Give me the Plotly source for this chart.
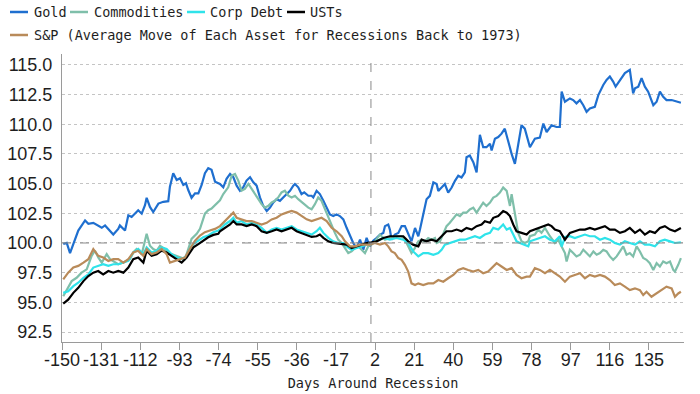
import plotly.graph_objects as go

# ---------------- data ----------------
gold_days = [-149.4,-147.7,-146.1,-143.7,-142.1,-138.8,-137.2,-134.8,-132.4,-130.7,-129.1,-126.7,-125.1,-122.7,-121.9,-119.4,-117.8,-116.2,-114.6,-113.0,-111.3,-109.7,-108.9,-107.3,-105.7,-103.2,-100.8,-98.4,-97.6,-96.0,-94.3,-92.7,-91.1,-89.8,-88.7,-87.1,-85.4,-83.8,-82.2,-80.6,-79.0,-77.4,-75.7,-73.3,-71.7,-70.1,-68.4,-66.8,-65.2,-63.6,-62.0,-60.4,-58.7,-57.1,-55.5,-53.9,-52.3,-50.6,-49.0,-47.4,-45.8,-44.2,-42.6,-41.0,-39.3,-37.7,-36.9,-35.3,-33.7,-32.4,-30.4,-28.8,-28.0,-26.4,-24.8,-23.1,-21.5,-19.9,-18.3,-16.7,-15.1,-13.4,-11.8,-10.2,-8.6,-7.0,-5.3,-3.7,-2.1,-0.5,1.1,2.7,4.4,6.0,6.8,8.4,9.2,10.0,11.6,13.3,14.9,16.5,18.1,19.7,21.4,23.0,23.8,25.4,27.0,28.6,30.3,31.9,32.7,34.3,35.9,37.5,39.2,40.8,42.4,44.0,45.6,46.4,48.0,49.7,51.3,52.9,54.5,56.1,57.8,58.6,60.2,61.8,63.4,65.0,66.7,68.3,69.9,71.5,73.1,74.7,76.4,77.2,79.6,82.0,83.7,85.3,87.7,90.1,91.7,92.6,94.2,96.6,98.2,99.8,101.5,103.1,104.7,106.3,108.7,110.4,112.8,114.4,116.0,117.6,118.8,120.9,123.3,125.7,127.3,128.2,129.8,131.4,133.0,134.6,137.1,138.7,140.3,141.9,143.5,146.0,148.4,150.5]
gold_vals = [99.91,100.0,99.15,100.2,101.05,101.9,101.62,101.7,101.42,101.28,101.48,101.05,100.71,101.19,101.48,101.05,102.33,102.19,102.47,102.76,102.47,103.18,103.81,103.04,102.61,103.32,103.47,103.52,104.74,105.88,105.31,105.45,104.89,105.03,104.46,103.81,104.18,104.18,104.89,105.88,106.31,106.16,105.17,104.97,104.69,105.4,105.82,105.54,104.83,104.4,104.69,105.26,105.54,105.11,104.83,103.84,103.13,102.7,102.98,103.41,103.69,103.55,103.84,104.12,104.4,104.83,104.97,104.69,104.12,104.26,103.98,103.98,103.84,104.4,104.12,103.55,102.98,102.41,102.27,102.41,102.27,101.99,101.28,100.57,100.0,99.57,100.28,99.43,100.43,99.7,100.2,100.42,100.71,100.85,101.42,101.56,101.13,100.28,100.71,100.85,101.42,101.42,100.71,100.14,101.27,100.57,101.13,102.27,103.68,103.97,105.1,104.96,104.39,104.67,104.96,104.25,104.67,105.24,105.67,105.52,105.95,107.22,107.37,106.8,105.95,109.12,108.07,108.07,108.36,107.79,108.78,108.92,109.21,109.63,108.5,107.51,106.66,108.22,109.92,109.63,108.5,108.07,108.78,108.87,110.06,109.35,109.92,109.77,109.77,112.75,111.9,112.18,112.04,111.76,112.04,111.61,111.05,111.33,111.47,112.46,113.31,113.74,114.02,113.6,113.17,113.74,114.31,114.59,112.61,113.03,113.17,113.88,113.17,112.75,111.61,111.9,112.75,112.32,112.04,112.04,111.9,111.81]

comm_days = [-149.4,-147.7,-145.3,-142.9,-140.5,-138.0,-135.6,-134.0,-132.4,-130.7,-128.3,-126.7,-124.3,-122.7,-120.2,-117.0,-115.4,-113.8,-111.3,-108.9,-107.3,-105.7,-104.0,-102.4,-100.0,-98.4,-96.8,-94.3,-91.9,-90.3,-88.7,-87.1,-84.6,-83.0,-80.6,-79.0,-77.4,-74.9,-73.3,-71.7,-69.3,-67.6,-66.0,-64.4,-62.8,-61.2,-59.5,-57.9,-56.3,-54.7,-53.1,-51.5,-49.8,-48.2,-46.6,-45.0,-43.4,-41.8,-40.1,-38.5,-36.9,-35.3,-33.7,-32.4,-30.4,-28.8,-27.2,-25.6,-24.0,-22.3,-20.7,-19.1,-17.5,-15.9,-14.2,-12.6,-11.0,-9.4,-7.8,-6.2,-4.5,-2.9,-1.3,0.3,1.9,4.4,6.8,9.2,11.6,14.9,16.5,18.1,19.7,21.4,23.0,24.6,26.2,27.8,29.4,31.1,31.9,33.5,35.1,36.7,38.3,40.0,41.6,43.2,44.8,46.4,48.0,49.7,51.3,52.9,54.5,56.1,57.8,59.4,61.0,62.6,64.2,65.9,67.5,68.3,69.9,71.5,73.1,74.7,76.4,77.2,79.6,81.2,82.8,84.5,86.9,89.3,90.9,92.6,94.2,95.0,96.6,98.2,99.8,101.5,103.1,104.7,106.3,108.0,109.6,111.2,112.8,114.4,116.0,117.6,119.3,120.9,122.5,124.1,125.7,127.3,129.0,130.6,132.2,133.8,135.4,137.1,138.7,140.3,141.9,143.5,145.2,146.8,147.6,149.2,150.5]
comm_vals = [95.51,96.08,96.79,97.07,97.5,97.78,98.92,99.35,98.78,98.35,99.06,98.64,98.35,98.21,98.35,98.64,99.2,99.49,99.06,100.77,99.77,99.49,99.35,99.77,99.49,99.2,99.06,98.92,98.78,98.64,99.49,100.34,100.77,101.19,102.47,102.76,102.9,103.32,103.6,104.12,104.69,105.68,105.82,105.26,104.4,104.55,104.97,104.55,104.12,103.69,103.27,102.98,103.13,103.41,103.55,103.84,104.26,104.4,103.98,103.84,103.98,103.69,103.41,103.27,102.98,102.84,103.27,103.84,103.55,102.84,102.13,101.42,100.85,100.28,100.0,99.57,99.15,99.29,99.57,99.72,99.43,99.15,99.72,99.86,100.14,100.71,100.28,100.42,100.57,100.57,100.28,99.72,99.15,99.58,100.14,100.28,100.14,100.42,100.28,100.42,100.0,100.14,100.85,101.42,101.7,102.12,102.41,102.27,102.55,102.55,102.83,102.97,102.55,102.97,103.4,103.12,103.4,103.82,103.97,104.25,104.67,104.39,103.12,104.11,102.27,100.85,100.14,100.0,100.14,100.57,100.71,101.13,100.85,101.27,100.57,100.0,100.28,99.72,99.15,98.44,99.43,99.15,98.87,99.01,99.43,99.15,98.87,99.29,99.01,99.15,99.43,99.29,98.87,98.58,98.87,99.29,99.72,99.01,99.15,98.87,99.72,99.29,98.73,98.58,98.3,97.73,98.3,98.02,98.44,98.3,98.44,97.73,97.59,98.16,98.73]

corp_days = [-149.4,-147.0,-144.5,-142.1,-139.6,-137.2,-134.8,-132.4,-130.0,-127.5,-125.1,-122.7,-120.2,-117.8,-115.4,-113.0,-110.5,-108.9,-106.5,-104.0,-101.6,-99.2,-96.8,-94.3,-91.9,-89.5,-87.9,-86.2,-83.8,-81.4,-79.0,-76.5,-74.1,-73.3,-70.9,-68.4,-66.8,-65.2,-62.8,-60.4,-57.9,-55.5,-53.1,-50.6,-48.2,-45.8,-43.4,-41.0,-38.5,-36.1,-33.7,-31.2,-28.8,-26.4,-24.8,-23.1,-20.7,-18.3,-15.9,-13.4,-11.8,-9.4,-7.0,-4.5,-2.1,0.3,2.7,6.0,9.2,12.4,15.7,18.1,20.5,23.0,25.4,27.8,30.3,32.7,34.3,35.9,38.3,40.8,43.2,45.6,48.0,50.5,52.9,55.3,57.8,59.4,61.8,64.2,65.9,67.5,69.1,70.7,72.3,74.7,76.4,77.2,79.6,82.0,84.5,86.9,89.3,91.7,92.6,94.2,96.6,99.0,101.5,103.9,106.3,108.7,111.2,113.6,116.0,118.4,120.9,123.3,125.7,128.2,130.6,133.0,135.4,137.9,140.3,142.7,145.2,147.6,150.5]
corp_vals = [95.8,95.94,96.36,96.65,97.07,97.36,97.93,98.07,98.21,98.07,98.21,98.21,98.35,98.49,99.2,99.49,99.06,99.63,99.2,99.35,99.63,99.49,99.06,98.78,98.64,98.92,99.49,99.91,100.2,100.48,100.63,100.91,101.05,101.14,101.56,101.85,102.13,101.7,101.85,101.56,101.7,101.56,101.28,100.85,101.14,101.28,101.14,101.28,101.42,101.14,100.99,100.85,100.71,100.99,101.28,100.85,100.43,100.14,100.0,100.0,99.72,99.43,99.57,99.72,99.86,100.0,100.14,100.42,100.28,100.42,100.28,100.0,99.29,98.87,99.15,99.15,99.01,99.15,99.43,99.86,100.0,100.14,100.28,100.28,100.42,100.57,100.42,100.71,100.85,101.27,101.13,101.56,101.13,101.27,100.71,100.14,100.0,99.86,99.72,100.14,100.28,100.42,100.57,100.28,100.14,100.57,99.7,100.5,100.57,100.42,100.57,100.71,100.57,100.57,100.28,100.42,100.28,100.0,99.86,100.14,100.0,99.86,100.14,99.86,99.86,99.72,100.14,100.28,100.14,100.0,100.06]

ust_days = [-149.4,-147.0,-144.5,-142.1,-139.6,-137.2,-134.8,-132.4,-130.0,-127.5,-125.1,-122.7,-120.2,-117.8,-115.4,-113.0,-110.5,-108.9,-106.5,-104.0,-101.6,-99.2,-96.8,-94.3,-91.9,-89.5,-87.9,-86.2,-83.8,-81.4,-79.0,-76.5,-74.1,-73.3,-70.9,-68.4,-66.8,-65.2,-62.8,-60.4,-57.9,-55.5,-53.1,-50.6,-48.2,-45.8,-43.4,-41.0,-38.5,-36.1,-33.7,-31.2,-28.8,-26.4,-24.8,-23.1,-20.7,-18.3,-15.9,-13.4,-11.8,-9.4,-7.0,-4.5,-2.1,0.3,2.7,6.0,9.2,12.4,15.7,18.1,20.5,23.0,24.6,27.0,29.4,31.9,34.3,36.7,39.2,41.6,44.0,46.4,48.9,51.3,53.7,55.3,57.8,59.4,61.8,64.2,65.9,67.5,69.1,70.7,73.1,75.6,77.2,79.6,82.0,84.5,86.1,87.7,89.3,91.7,94.2,96.6,99.0,101.5,103.9,106.3,108.7,111.2,113.6,116.0,118.4,120.9,123.3,125.7,128.2,130.6,133.0,135.4,137.9,140.3,142.7,145.2,147.6,150.5]
ust_vals = [94.89,95.23,95.8,96.22,96.79,97.22,97.5,97.64,97.36,97.64,97.5,97.64,97.5,97.93,98.64,98.78,98.35,99.35,98.92,99.06,99.35,99.2,98.92,98.64,98.35,98.78,99.2,99.63,99.91,100.2,100.48,100.68,100.77,100.99,101.28,101.56,101.85,101.56,101.56,101.42,101.56,101.42,100.99,100.85,100.99,101.14,100.99,101.14,101.28,100.99,100.85,100.71,100.51,100.57,100.71,100.43,100.14,100.0,99.94,99.91,99.86,99.57,99.72,99.86,100.0,100.06,100.14,100.42,100.57,100.57,100.57,100.14,99.86,99.72,100.28,100.14,100.28,100.14,100.57,100.99,100.99,101.13,100.99,101.27,101.13,101.42,101.56,101.84,101.7,102.12,102.27,102.69,102.55,102.27,101.56,100.99,100.85,100.71,100.99,101.13,101.27,101.42,101.56,101.42,101.13,100.99,100.28,100.85,100.99,101.13,101.13,101.27,101.13,101.27,101.42,101.13,101.13,100.85,100.99,101.27,100.85,101.13,100.71,100.99,100.85,101.27,101.42,101.13,100.99,101.27]

spx_days = [-149.4,-147.0,-144.5,-142.1,-139.6,-137.2,-134.8,-132.4,-130.0,-127.5,-125.1,-122.7,-120.2,-117.8,-115.4,-113.0,-110.5,-108.9,-106.5,-104.0,-101.6,-99.2,-97.6,-95.2,-92.7,-90.3,-87.9,-85.4,-83.0,-80.6,-78.2,-75.7,-73.3,-70.9,-68.4,-66.8,-65.2,-62.8,-60.4,-57.9,-55.5,-53.1,-50.6,-48.2,-45.8,-43.4,-41.0,-38.5,-36.1,-33.7,-31.2,-28.8,-26.4,-24.0,-21.5,-19.1,-16.7,-14.2,-12.6,-10.2,-7.8,-5.3,-2.9,-0.5,1.9,4.4,6.8,8.4,10.0,11.6,13.3,14.9,16.5,18.1,19.7,21.4,23.0,25.4,27.8,30.3,32.7,35.1,37.5,40.0,42.4,44.8,47.2,49.7,52.1,54.5,56.9,59.4,61.0,63.4,65.9,68.3,70.7,73.1,75.6,77.2,79.6,82.0,84.5,86.9,89.3,91.7,94.2,96.6,99.0,101.5,103.9,106.3,108.7,111.2,113.6,116.0,118.4,120.9,123.3,125.7,128.2,130.6,132.2,133.8,136.2,138.7,141.1,143.5,146.0,147.6,149.2,150.5]
spx_vals = [96.93,97.5,97.93,98.07,98.35,98.64,99.49,98.92,98.78,98.49,98.64,98.64,98.35,98.64,99.2,99.35,98.92,99.49,99.06,99.2,99.49,99.06,98.35,98.49,98.64,98.78,99.49,100.2,100.63,100.91,101.05,101.19,101.42,101.85,102.27,102.56,102.13,101.99,101.85,101.85,101.7,101.56,101.7,101.99,102.13,102.41,102.56,102.7,102.56,102.27,101.99,101.85,101.99,102.13,101.85,101.28,100.99,100.57,100.14,99.72,99.72,99.86,99.86,99.85,100.0,99.86,100.0,99.72,99.29,99.15,98.73,98.58,98.16,97.59,96.6,96.46,96.6,96.46,96.6,96.6,96.88,96.74,97.03,97.31,97.73,97.88,97.73,97.59,97.73,97.45,97.59,98.02,98.3,98.02,97.73,97.88,97.31,97.03,97.17,97.17,97.88,97.73,97.45,97.73,97.45,97.17,96.74,97.17,97.31,97.45,97.03,97.31,97.17,97.31,97.17,96.88,96.46,96.6,96.32,96.03,96.18,96.03,95.61,95.89,95.47,95.75,96.03,96.32,96.18,95.47,95.75,95.89]

series_names = ["Gold", "Commodities", "Corp Debt", "USTs",
                "S&P (Average Move of Each Asset for Recessions Back to 1973)"]
x_tick_vals = [-150, -131, -112, -93, -74, -55, -36, -17, 2, 21, 40, 59, 78, 97, 116, 135]
y_tick_vals = [92.5, 95.0, 97.5, 100.0, 102.5, 105.0, 107.5, 110.0, 112.5, 115.0]
x_title = "Days Around Recession"

# ---------------- styling / layout ----------------
colors = ["#1f6fcf", "#7fbfaa", "#2fe3ea", "#000000", "#b98b5a"]
MONO = "DejaVu Sans Mono"
SANS = "Liberation Sans"
TXT = "#1e1e1e"
W, H = 700, 394
ML, MR, MT, MB = 62, 16, 54, 52
PW, PH = W - ML - MR, H - MT - MB

def px_x(px):
    return (px - ML) / PW

def px_y(py):
    return (H - MB - py) / PH

# legend layout in pixels: (line start, line end, text start, row centre)
legend_pos = [(10, 28, 32, 12), (70, 88, 92, 12), (187, 205, 208, 12),
              (287, 305, 308, 12), (10, 28, 32, 35)]

fig = go.Figure()
for name, xs, ys, c in zip(series_names,
                           [gold_days, comm_days, corp_days, ust_days, spx_days],
                           [gold_vals, comm_vals, corp_vals, ust_vals, spx_vals],
                           colors):
    fig.add_trace(go.Scatter(x=xs, y=ys, name=name, mode="lines",
                             line=dict(color=c, width=2.2)))

fig.add_hline(y=100, line=dict(color="#8a8a8a", width=1, dash="dash"))
fig.add_vline(x=0, line=dict(color="#8a8a8a", width=1, dash="dash"))

# legend drawn as swatches + text
for name, c, (x0, x1, tx, ry) in zip(series_names, colors, legend_pos):
    fig.add_shape(type="line", xref="paper", yref="paper",
                  x0=px_x(x0), x1=px_x(x1), y0=px_y(ry), y1=px_y(ry),
                  line=dict(color=c, width=2.5))
    fig.add_annotation(xref="paper", yref="paper", x=px_x(tx), y=px_y(ry),
                       xanchor="left", yanchor="middle", showarrow=False,
                       text=name, font=dict(family=MONO, size=13.5, color=TXT))

fig.update_layout(
    width=W, height=H,
    margin=dict(l=ML, r=MR, t=MT, b=MB, autoexpand=False),
    paper_bgcolor="white", plot_bgcolor="white",
    font=dict(family=SANS, color=TXT),
    showlegend=False,
    xaxis=dict(range=[-150, 152], tickvals=x_tick_vals,
               ticktext=[str(v) for v in x_tick_vals], tickangle=0,
               showgrid=False, zeroline=False, automargin=True,
               showline=True, linecolor="#9a9a9a", linewidth=1,
               ticks="outside", ticklen=7, tickcolor="#9a9a9a",
               ticklabelstandoff=-6,
               tickfont=dict(family=SANS, size=18, color=TXT),
               title=dict(text=x_title, font=dict(family=MONO, size=13.5, color=TXT), standoff=9)),
    yaxis=dict(range=[91.66, 115.92], tickvals=y_tick_vals,
               ticktext=[f"{v:.1f}" for v in y_tick_vals],
               showgrid=True, gridcolor="#c4c4c4", griddash="dot", gridwidth=1,
               zeroline=False, showline=True, linecolor="#9a9a9a", linewidth=1,
               ticks="", automargin=False, ticklabelstandoff=5,
               tickfont=dict(family=SANS, size=18, color=TXT)),
)

# remove the default page margin so the figure sits at the window's top-left
fig.write_html("out.html",
               config={"displayModeBar": False},
               post_script="document.body.style.margin='0';document.body.style.overflow='hidden';")
